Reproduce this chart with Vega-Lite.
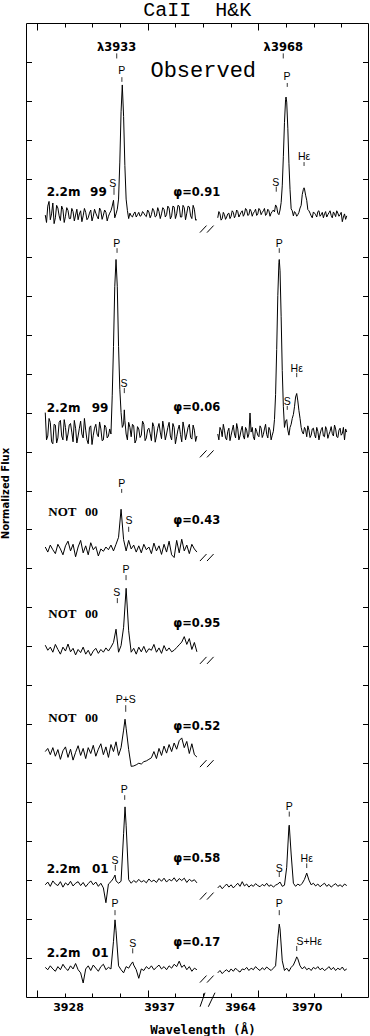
{
"$schema":"https://vega.github.io/schema/vega-lite/v6.json",
"width":342,"height":974,
"autosize":{"type":"none"},
"padding":{"left":26,"top":23,"right":2,"bottom":39},
"background":"white",
"config":{"view":{"stroke":"black","strokeWidth":1},"axis":{"tickWidth":1,"tickColor":"black","domain":false,"grid":false}},
"datasets":{
"specL":[
{"id":"1","wl":3925.75,"flux":20.07},{"id":"1","wl":3926,"flux":20.3},{"id":"1","wl":3926.25,"flux":19.95},{"id":"1","wl":3926.5,"flux":20.38},{"id":"1","wl":3926.75,"flux":20.0},{"id":"1","wl":3927,"flux":20.25},{"id":"1","wl":3927.25,"flux":19.93},{"id":"1","wl":3927.5,"flux":20.21},{"id":"1","wl":3927.75,"flux":20.04},{"id":"1","wl":3928,"flux":20.19},{"id":"1","wl":3928.25,"flux":19.98},{"id":"1","wl":3928.5,"flux":20.16},{"id":"1","wl":3928.75,"flux":20.07},{"id":"1","wl":3929,"flux":19.95},{"id":"1","wl":3929.25,"flux":20.18},{"id":"1","wl":3929.5,"flux":20.05},{"id":"1","wl":3929.75,"flux":20.14},{"id":"1","wl":3930,"flux":20.0},{"id":"1","wl":3930.25,"flux":20.2},{"id":"1","wl":3930.5,"flux":20.04},{"id":"1","wl":3930.75,"flux":20.12},{"id":"1","wl":3931,"flux":19.97},{"id":"1","wl":3931.25,"flux":20.18},{"id":"1","wl":3931.5,"flux":20.07},{"id":"1","wl":3931.75,"flux":20.14},{"id":"1","wl":3932,"flux":20.04},{"id":"1","wl":3932.25,"flux":20.18},{"id":"1","wl":3932.5,"flux":20.45},{"id":"1","wl":3932.75,"flux":20.1},{"id":"1","wl":3933,"flux":20.48},{"id":"1","wl":3933.25,"flux":22.72},{"id":"1","wl":3933.37,"flux":23.41},{"id":"1","wl":3933.5,"flux":22.6},{"id":"1","wl":3933.75,"flux":20.48},{"id":"1","wl":3934,"flux":19.98},{"id":"1","wl":3934.25,"flux":20.05},{"id":"1","wl":3934.5,"flux":20.1},{"id":"1","wl":3934.75,"flux":20.02},{"id":"1","wl":3935,"flux":20.14},{"id":"1","wl":3935.25,"flux":20.06},{"id":"1","wl":3935.5,"flux":20.12},{"id":"1","wl":3935.75,"flux":20.03},{"id":"1","wl":3936,"flux":20.15},{"id":"1","wl":3936.25,"flux":20.08},{"id":"1","wl":3936.5,"flux":20.18},{"id":"1","wl":3936.75,"flux":20.05},{"id":"1","wl":3937,"flux":20.16},{"id":"1","wl":3937.25,"flux":20.1},{"id":"1","wl":3937.5,"flux":20.22},{"id":"1","wl":3937.75,"flux":20.08},{"id":"1","wl":3938,"flux":20.25},{"id":"1","wl":3938.25,"flux":20.05},{"id":"1","wl":3938.5,"flux":20.28},{"id":"1","wl":3938.75,"flux":20.1},{"id":"1","wl":3939,"flux":20.3},{"id":"1","wl":3939.25,"flux":20.02},{"id":"1","wl":3939.5,"flux":20.26},{"id":"1","wl":3939.75,"flux":20.12},{"id":"1","wl":3940,"flux":20.28},{"id":"1","wl":3940.25,"flux":19.98},{"id":"1","wl":3940.5,"flux":20.22},{"id":"1","wl":3940.75,"flux":19.95},
{"id":"1","wl":3925.875,"flux":19.88},{"id":"1","wl":3926.125,"flux":20.42},{"id":"1","wl":3926.375,"flux":20.1},{"id":"1","wl":3926.625,"flux":19.85},{"id":"1","wl":3926.875,"flux":20.32},{"id":"1","wl":3927.125,"flux":20.05},{"id":"1","wl":3927.375,"flux":20.3},{"id":"1","wl":3927.625,"flux":19.88},{"id":"1","wl":3927.875,"flux":20.26},{"id":"1","wl":3928.125,"flux":19.98},{"id":"1","wl":3928.375,"flux":20.24},{"id":"1","wl":3928.625,"flux":19.92},{"id":"1","wl":3928.875,"flux":20.22},{"id":"1","wl":3929.125,"flux":20.1},{"id":"1","wl":3929.375,"flux":19.9},{"id":"1","wl":3929.625,"flux":20.24},{"id":"1","wl":3929.875,"flux":19.95},{"id":"1","wl":3930.125,"flux":20.12},{"id":"1","wl":3930.375,"flux":19.92},{"id":"1","wl":3930.625,"flux":20.22},{"id":"1","wl":3930.875,"flux":20.04},{"id":"1","wl":3931.125,"flux":20.25},{"id":"1","wl":3931.375,"flux":19.96},{"id":"1","wl":3931.625,"flux":20.2},{"id":"1","wl":3931.875,"flux":19.92},{"id":"1","wl":3932.125,"flux":20.12},{"id":"1","wl":3932.375,"flux":20.3},{"id":"1","wl":3932.625,"flux":20.0},{"id":"1","wl":3932.875,"flux":20.22},{"id":"1","wl":3933.125,"flux":21.43},{"id":"1","wl":3933.625,"flux":21.34},{"id":"1","wl":3933.875,"flux":20.19},{"id":"1","wl":3934.125,"flux":20.12},{"id":"1","wl":3934.375,"flux":20.02},{"id":"1","wl":3934.625,"flux":20.15},{"id":"1","wl":3934.875,"flux":20.08},{"id":"1","wl":3935.125,"flux":20.04},{"id":"1","wl":3935.375,"flux":20.16},{"id":"1","wl":3935.625,"flux":20.06},{"id":"1","wl":3935.875,"flux":20.2},{"id":"1","wl":3936.125,"flux":20.0},{"id":"1","wl":3936.375,"flux":20.24},{"id":"1","wl":3936.625,"flux":20.02},{"id":"1","wl":3936.875,"flux":20.26},{"id":"1","wl":3937.125,"flux":19.98},{"id":"1","wl":3937.375,"flux":20.26},{"id":"1","wl":3937.625,"flux":20.02},{"id":"1","wl":3937.875,"flux":20.3},{"id":"1","wl":3938.125,"flux":19.97},{"id":"1","wl":3938.375,"flux":20.3},{"id":"1","wl":3938.625,"flux":19.98},{"id":"1","wl":3938.875,"flux":20.32},{"id":"1","wl":3939.125,"flux":20.02},{"id":"1","wl":3939.375,"flux":20.32},{"id":"1","wl":3939.625,"flux":19.95},{"id":"1","wl":3939.875,"flux":20.3},{"id":"1","wl":3940.125,"flux":20.05},{"id":"1","wl":3940.375,"flux":20.32},{"id":"1","wl":3940.625,"flux":19.94},
{"id":"2","wl":3925.75,"flux":15.0},{"id":"2","wl":3926,"flux":14.4},{"id":"2","wl":3926.25,"flux":14.75},{"id":"2","wl":3926.5,"flux":14.2},{"id":"2","wl":3926.75,"flux":14.68},{"id":"2","wl":3927,"flux":14.35},{"id":"2","wl":3927.25,"flux":14.8},{"id":"2","wl":3927.5,"flux":14.3},{"id":"2","wl":3927.75,"flux":14.62},{"id":"2","wl":3928,"flux":14.45},{"id":"2","wl":3928.25,"flux":14.72},{"id":"2","wl":3928.5,"flux":14.25},{"id":"2","wl":3928.75,"flux":14.6},{"id":"2","wl":3929,"flux":14.4},{"id":"2","wl":3929.25,"flux":14.78},{"id":"2","wl":3929.5,"flux":14.35},{"id":"2","wl":3929.75,"flux":14.55},{"id":"2","wl":3930,"flux":14.2},{"id":"2","wl":3930.25,"flux":14.66},{"id":"2","wl":3930.5,"flux":14.42},{"id":"2","wl":3930.75,"flux":14.7},{"id":"2","wl":3931,"flux":14.38},{"id":"2","wl":3931.25,"flux":14.58},{"id":"2","wl":3931.5,"flux":14.3},{"id":"2","wl":3931.75,"flux":14.62},{"id":"2","wl":3932,"flux":14.4},{"id":"2","wl":3932.25,"flux":14.45},{"id":"2","wl":3932.5,"flux":16.7},{"id":"2","wl":3932.75,"flux":18.93},{"id":"2","wl":3933,"flux":16.7},{"id":"2","wl":3933.25,"flux":15.0},{"id":"2","wl":3933.5,"flux":14.7},{"id":"2","wl":3933.57,"flux":15.07},{"id":"2","wl":3933.75,"flux":14.45},{"id":"2","wl":3934,"flux":14.75},{"id":"2","wl":3934.25,"flux":14.38},{"id":"2","wl":3934.5,"flux":14.66},{"id":"2","wl":3934.75,"flux":14.3},{"id":"2","wl":3935,"flux":14.58},{"id":"2","wl":3935.25,"flux":14.42},{"id":"2","wl":3935.5,"flux":14.7},{"id":"2","wl":3935.75,"flux":14.35},{"id":"2","wl":3936,"flux":14.6},{"id":"2","wl":3936.25,"flux":14.28},{"id":"2","wl":3936.5,"flux":14.64},{"id":"2","wl":3936.75,"flux":14.4},{"id":"2","wl":3937,"flux":14.72},{"id":"2","wl":3937.25,"flux":14.33},{"id":"2","wl":3937.5,"flux":14.58},{"id":"2","wl":3937.75,"flux":14.45},{"id":"2","wl":3938,"flux":14.75},{"id":"2","wl":3938.25,"flux":14.3},{"id":"2","wl":3938.5,"flux":14.62},{"id":"2","wl":3938.75,"flux":14.38},{"id":"2","wl":3939,"flux":14.68},{"id":"2","wl":3939.25,"flux":14.25},{"id":"2","wl":3939.5,"flux":14.58},{"id":"2","wl":3939.75,"flux":14.45},{"id":"2","wl":3940,"flux":14.7},{"id":"2","wl":3940.25,"flux":14.32},{"id":"2","wl":3940.5,"flux":14.55},{"id":"2","wl":3940.75,"flux":14.4},
{"id":"2","wl":3925.875,"flux":14.3},{"id":"2","wl":3926.125,"flux":14.85},{"id":"2","wl":3926.375,"flux":14.25},{"id":"2","wl":3926.625,"flux":14.7},{"id":"2","wl":3926.875,"flux":14.22},{"id":"2","wl":3927.125,"flux":14.75},{"id":"2","wl":3927.375,"flux":14.4},{"id":"2","wl":3927.625,"flux":14.82},{"id":"2","wl":3927.875,"flux":14.28},{"id":"2","wl":3928.125,"flux":14.68},{"id":"2","wl":3928.375,"flux":14.5},{"id":"2","wl":3928.625,"flux":14.8},{"id":"2","wl":3928.875,"flux":14.22},{"id":"2","wl":3929.125,"flux":14.6},{"id":"2","wl":3929.375,"flux":14.45},{"id":"2","wl":3929.625,"flux":14.85},{"id":"2","wl":3929.875,"flux":14.3},{"id":"2","wl":3930.125,"flux":14.62},{"id":"2","wl":3930.375,"flux":14.18},{"id":"2","wl":3930.625,"flux":14.6},{"id":"2","wl":3930.875,"flux":14.45},{"id":"2","wl":3931.125,"flux":14.76},{"id":"2","wl":3931.375,"flux":14.28},{"id":"2","wl":3931.625,"flux":14.68},{"id":"2","wl":3931.875,"flux":14.35},{"id":"2","wl":3932.125,"flux":14.58},{"id":"2","wl":3932.375,"flux":15.43},{"id":"2","wl":3932.625,"flux":18.23},{"id":"2","wl":3932.875,"flux":18.23},{"id":"2","wl":3933.125,"flux":15.6},{"id":"2","wl":3933.375,"flux":14.62},{"id":"2","wl":3933.625,"flux":14.8},{"id":"2","wl":3933.875,"flux":14.3},{"id":"2","wl":3934.125,"flux":14.62},{"id":"2","wl":3934.375,"flux":14.7},{"id":"2","wl":3934.625,"flux":14.22},{"id":"2","wl":3934.875,"flux":14.64},{"id":"2","wl":3935.125,"flux":14.36},{"id":"2","wl":3935.375,"flux":14.78},{"id":"2","wl":3935.625,"flux":14.28},{"id":"2","wl":3935.875,"flux":14.56},{"id":"2","wl":3936.125,"flux":14.46},{"id":"2","wl":3936.375,"flux":14.74},{"id":"2","wl":3936.625,"flux":14.24},{"id":"2","wl":3936.875,"flux":14.6},{"id":"2","wl":3937.125,"flux":14.5},{"id":"2","wl":3937.375,"flux":14.78},{"id":"2","wl":3937.625,"flux":14.3},{"id":"2","wl":3937.875,"flux":14.62},{"id":"2","wl":3938.125,"flux":14.4},{"id":"2","wl":3938.375,"flux":14.72},{"id":"2","wl":3938.625,"flux":14.2},{"id":"2","wl":3938.875,"flux":14.56},{"id":"2","wl":3939.125,"flux":14.44},{"id":"2","wl":3939.375,"flux":14.76},{"id":"2","wl":3939.625,"flux":14.3},{"id":"2","wl":3939.875,"flux":14.62},{"id":"2","wl":3940.125,"flux":14.36},{"id":"2","wl":3940.375,"flux":14.68},{"id":"2","wl":3940.625,"flux":14.26},
{"id":"3","wl":3925.75,"flux":11.55},{"id":"3","wl":3926,"flux":11.42},{"id":"3","wl":3926.25,"flux":11.6},{"id":"3","wl":3926.5,"flux":11.48},{"id":"3","wl":3926.75,"flux":11.38},{"id":"3","wl":3927,"flux":11.62},{"id":"3","wl":3927.25,"flux":11.5},{"id":"3","wl":3927.5,"flux":11.35},{"id":"3","wl":3927.75,"flux":11.58},{"id":"3","wl":3928,"flux":11.7},{"id":"3","wl":3928.25,"flux":11.45},{"id":"3","wl":3928.5,"flux":11.62},{"id":"3","wl":3928.75,"flux":11.3},{"id":"3","wl":3929,"flux":11.55},{"id":"3","wl":3929.25,"flux":11.72},{"id":"3","wl":3929.5,"flux":11.4},{"id":"3","wl":3929.75,"flux":11.58},{"id":"3","wl":3930,"flux":11.35},{"id":"3","wl":3930.25,"flux":11.66},{"id":"3","wl":3930.5,"flux":11.48},{"id":"3","wl":3930.75,"flux":11.56},{"id":"3","wl":3931,"flux":11.32},{"id":"3","wl":3931.25,"flux":11.5},{"id":"3","wl":3931.5,"flux":11.44},{"id":"3","wl":3931.75,"flux":11.55},{"id":"3","wl":3932,"flux":11.48},{"id":"3","wl":3932.25,"flux":11.6},{"id":"3","wl":3932.5,"flux":11.45},{"id":"3","wl":3932.75,"flux":11.62},{"id":"3","wl":3933,"flux":11.8},{"id":"3","wl":3933.25,"flux":12.52},{"id":"3","wl":3933.5,"flux":11.74},{"id":"3","wl":3933.75,"flux":11.45},{"id":"3","wl":3934,"flux":11.72},{"id":"3","wl":3934.25,"flux":11.5},{"id":"3","wl":3934.5,"flux":11.6},{"id":"3","wl":3934.75,"flux":11.42},{"id":"3","wl":3935,"flux":11.58},{"id":"3","wl":3935.25,"flux":11.4},{"id":"3","wl":3935.5,"flux":11.62},{"id":"3","wl":3935.75,"flux":11.48},{"id":"3","wl":3936,"flux":11.55},{"id":"3","wl":3936.25,"flux":11.38},{"id":"3","wl":3936.5,"flux":11.65},{"id":"3","wl":3936.75,"flux":11.45},{"id":"3","wl":3937,"flux":11.58},{"id":"3","wl":3937.25,"flux":11.36},{"id":"3","wl":3937.5,"flux":11.62},{"id":"3","wl":3937.75,"flux":11.42},{"id":"3","wl":3938,"flux":11.7},{"id":"3","wl":3938.25,"flux":11.35},{"id":"3","wl":3938.5,"flux":11.28},{"id":"3","wl":3938.75,"flux":11.72},{"id":"3","wl":3939,"flux":11.4},{"id":"3","wl":3939.25,"flux":11.75},{"id":"3","wl":3939.5,"flux":11.45},{"id":"3","wl":3939.75,"flux":11.6},{"id":"3","wl":3940,"flux":11.38},{"id":"3","wl":3940.25,"flux":11.62},{"id":"3","wl":3940.5,"flux":11.5},{"id":"3","wl":3940.75,"flux":11.42},
{"id":"4","wl":3925.75,"flux":9.03},{"id":"4","wl":3926,"flux":8.9},{"id":"4","wl":3926.25,"flux":8.98},{"id":"4","wl":3926.5,"flux":8.85},{"id":"4","wl":3926.75,"flux":9.05},{"id":"4","wl":3927,"flux":8.92},{"id":"4","wl":3927.25,"flux":8.8},{"id":"4","wl":3927.5,"flux":8.98},{"id":"4","wl":3927.75,"flux":8.88},{"id":"4","wl":3928,"flux":9.06},{"id":"4","wl":3928.25,"flux":8.86},{"id":"4","wl":3928.5,"flux":8.95},{"id":"4","wl":3928.75,"flux":8.78},{"id":"4","wl":3929,"flux":8.92},{"id":"4","wl":3929.25,"flux":8.84},{"id":"4","wl":3929.5,"flux":8.98},{"id":"4","wl":3929.75,"flux":8.8},{"id":"4","wl":3930,"flux":8.9},{"id":"4","wl":3930.25,"flux":8.76},{"id":"4","wl":3930.5,"flux":8.88},{"id":"4","wl":3930.75,"flux":8.95},{"id":"4","wl":3931,"flux":8.82},{"id":"4","wl":3931.25,"flux":8.92},{"id":"4","wl":3931.5,"flux":8.85},{"id":"4","wl":3931.75,"flux":8.96},{"id":"4","wl":3932,"flux":8.88},{"id":"4","wl":3932.25,"flux":8.98},{"id":"4","wl":3932.5,"flux":9.1},{"id":"4","wl":3932.75,"flux":9.44},{"id":"4","wl":3933,"flux":8.85},{"id":"4","wl":3933.25,"flux":9.02},{"id":"4","wl":3933.5,"flux":9.49},{"id":"4","wl":3933.75,"flux":10.49},{"id":"4","wl":3934,"flux":9.4},{"id":"4","wl":3934.25,"flux":8.85},{"id":"4","wl":3934.5,"flux":8.95},{"id":"4","wl":3934.75,"flux":8.8},{"id":"4","wl":3935,"flux":8.98},{"id":"4","wl":3935.25,"flux":8.86},{"id":"4","wl":3935.5,"flux":9.0},{"id":"4","wl":3935.75,"flux":8.84},{"id":"4","wl":3936,"flux":8.94},{"id":"4","wl":3936.25,"flux":8.9},{"id":"4","wl":3936.5,"flux":9.05},{"id":"4","wl":3936.75,"flux":8.85},{"id":"4","wl":3937,"flux":8.96},{"id":"4","wl":3937.25,"flux":8.82},{"id":"4","wl":3937.5,"flux":9.02},{"id":"4","wl":3937.75,"flux":8.88},{"id":"4","wl":3938,"flux":8.96},{"id":"4","wl":3938.25,"flux":8.86},{"id":"4","wl":3938.5,"flux":8.9},{"id":"4","wl":3938.75,"flux":8.97},{"id":"4","wl":3939,"flux":9.04},{"id":"4","wl":3939.25,"flux":9.11},{"id":"4","wl":3939.5,"flux":9.25},{"id":"4","wl":3939.75,"flux":9.05},{"id":"4","wl":3940,"flux":9.2},{"id":"4","wl":3940.25,"flux":8.92},{"id":"4","wl":3940.5,"flux":9.1},{"id":"4","wl":3940.75,"flux":8.86},
{"id":"5","wl":3925.75,"flux":6.3},{"id":"5","wl":3926,"flux":6.38},{"id":"5","wl":3926.25,"flux":6.22},{"id":"5","wl":3926.5,"flux":6.4},{"id":"5","wl":3926.75,"flux":6.18},{"id":"5","wl":3927,"flux":6.35},{"id":"5","wl":3927.25,"flux":6.1},{"id":"5","wl":3927.5,"flux":6.32},{"id":"5","wl":3927.75,"flux":6.42},{"id":"5","wl":3928,"flux":6.15},{"id":"5","wl":3928.25,"flux":6.36},{"id":"5","wl":3928.5,"flux":6.08},{"id":"5","wl":3928.75,"flux":6.28},{"id":"5","wl":3929,"flux":6.45},{"id":"5","wl":3929.25,"flux":6.2},{"id":"5","wl":3929.5,"flux":6.38},{"id":"5","wl":3929.75,"flux":6.12},{"id":"5","wl":3930,"flux":6.4},{"id":"5","wl":3930.25,"flux":6.25},{"id":"5","wl":3930.5,"flux":6.46},{"id":"5","wl":3930.75,"flux":6.18},{"id":"5","wl":3931,"flux":6.36},{"id":"5","wl":3931.25,"flux":6.5},{"id":"5","wl":3931.5,"flux":6.22},{"id":"5","wl":3931.75,"flux":6.42},{"id":"5","wl":3932,"flux":6.15},{"id":"5","wl":3932.25,"flux":6.48},{"id":"5","wl":3932.5,"flux":6.3},{"id":"5","wl":3932.75,"flux":6.55},{"id":"5","wl":3933,"flux":6.2},{"id":"5","wl":3933.25,"flux":6.4},{"id":"5","wl":3933.5,"flux":6.85},{"id":"5","wl":3933.64,"flux":7.13},{"id":"5","wl":3933.75,"flux":6.9},{"id":"5","wl":3934,"flux":6.35},{"id":"5","wl":3934.25,"flux":5.92},{"id":"5","wl":3934.5,"flux":5.93},{"id":"5","wl":3934.75,"flux":5.96},{"id":"5","wl":3935,"flux":6.0},{"id":"5","wl":3935.25,"flux":5.98},{"id":"5","wl":3935.5,"flux":6.04},{"id":"5","wl":3935.75,"flux":6.06},{"id":"5","wl":3936,"flux":6.1},{"id":"5","wl":3936.25,"flux":6.14},{"id":"5","wl":3936.5,"flux":6.3},{"id":"5","wl":3936.75,"flux":6.12},{"id":"5","wl":3937,"flux":6.38},{"id":"5","wl":3937.25,"flux":6.2},{"id":"5","wl":3937.5,"flux":6.44},{"id":"5","wl":3937.75,"flux":6.26},{"id":"5","wl":3938,"flux":6.48},{"id":"5","wl":3938.25,"flux":6.3},{"id":"5","wl":3938.5,"flux":6.52},{"id":"5","wl":3938.75,"flux":6.36},{"id":"5","wl":3939,"flux":6.58},{"id":"5","wl":3939.25,"flux":6.65},{"id":"5","wl":3939.5,"flux":6.4},{"id":"5","wl":3939.75,"flux":6.56},{"id":"5","wl":3940,"flux":6.25},{"id":"5","wl":3940.25,"flux":6.5},{"id":"5","wl":3940.5,"flux":6.22},{"id":"5","wl":3940.75,"flux":6.16},
{"id":"6","wl":3925.75,"flux":2.88},{"id":"6","wl":3926,"flux":2.95},{"id":"6","wl":3926.25,"flux":2.84},{"id":"6","wl":3926.5,"flux":2.98},{"id":"6","wl":3926.75,"flux":2.9},{"id":"6","wl":3927,"flux":2.86},{"id":"6","wl":3927.25,"flux":2.96},{"id":"6","wl":3927.5,"flux":2.82},{"id":"6","wl":3927.75,"flux":2.93},{"id":"6","wl":3928,"flux":2.87},{"id":"6","wl":3928.25,"flux":2.97},{"id":"6","wl":3928.5,"flux":2.85},{"id":"6","wl":3928.75,"flux":2.92},{"id":"6","wl":3929,"flux":2.96},{"id":"6","wl":3929.25,"flux":2.86},{"id":"6","wl":3929.5,"flux":2.94},{"id":"6","wl":3929.75,"flux":2.83},{"id":"6","wl":3930,"flux":2.91},{"id":"6","wl":3930.25,"flux":2.98},{"id":"6","wl":3930.5,"flux":2.88},{"id":"6","wl":3930.75,"flux":2.95},{"id":"6","wl":3931,"flux":2.84},{"id":"6","wl":3931.25,"flux":2.92},{"id":"6","wl":3931.5,"flux":2.8},{"id":"6","wl":3931.75,"flux":2.42},{"id":"6","wl":3932,"flux":2.9},{"id":"6","wl":3932.25,"flux":2.96},{"id":"6","wl":3932.5,"flux":3.05},{"id":"6","wl":3932.65,"flux":3.13},{"id":"6","wl":3932.75,"flux":2.98},{"id":"6","wl":3933,"flux":2.92},{"id":"6","wl":3933.25,"flux":2.97},{"id":"6","wl":3933.5,"flux":4.19},{"id":"6","wl":3933.64,"flux":4.88},{"id":"6","wl":3933.75,"flux":4.41},{"id":"6","wl":3934,"flux":3.01},{"id":"6","wl":3934.25,"flux":2.92},{"id":"6","wl":3934.5,"flux":2.99},{"id":"6","wl":3934.75,"flux":2.94},{"id":"6","wl":3935,"flux":3.02},{"id":"6","wl":3935.25,"flux":2.95},{"id":"6","wl":3935.5,"flux":2.99},{"id":"6","wl":3935.75,"flux":2.93},{"id":"6","wl":3936,"flux":3.03},{"id":"6","wl":3936.25,"flux":2.96},{"id":"6","wl":3936.5,"flux":3.0},{"id":"6","wl":3936.75,"flux":2.94},{"id":"6","wl":3937,"flux":3.04},{"id":"6","wl":3937.25,"flux":2.97},{"id":"6","wl":3937.5,"flux":3.05},{"id":"6","wl":3937.75,"flux":2.95},{"id":"6","wl":3938,"flux":3.02},{"id":"6","wl":3938.25,"flux":2.98},{"id":"6","wl":3938.5,"flux":3.06},{"id":"6","wl":3938.75,"flux":2.96},{"id":"6","wl":3939,"flux":3.04},{"id":"6","wl":3939.25,"flux":2.99},{"id":"6","wl":3939.5,"flux":3.05},{"id":"6","wl":3939.75,"flux":2.94},{"id":"6","wl":3940,"flux":3.02},{"id":"6","wl":3940.25,"flux":2.97},{"id":"6","wl":3940.5,"flux":3.01},{"id":"6","wl":3940.75,"flux":2.93},
{"id":"7","wl":3925.75,"flux":0.76},{"id":"7","wl":3926,"flux":0.7},{"id":"7","wl":3926.25,"flux":0.8},{"id":"7","wl":3926.5,"flux":0.72},{"id":"7","wl":3926.75,"flux":0.66},{"id":"7","wl":3927,"flux":0.78},{"id":"7","wl":3927.25,"flux":0.7},{"id":"7","wl":3927.5,"flux":0.84},{"id":"7","wl":3927.75,"flux":0.74},{"id":"7","wl":3928,"flux":0.68},{"id":"7","wl":3928.25,"flux":0.8},{"id":"7","wl":3928.5,"flux":0.72},{"id":"7","wl":3928.75,"flux":0.86},{"id":"7","wl":3929,"flux":0.7},{"id":"7","wl":3929.25,"flux":0.62},{"id":"7","wl":3929.5,"flux":0.36},{"id":"7","wl":3929.75,"flux":0.72},{"id":"7","wl":3930,"flux":0.8},{"id":"7","wl":3930.25,"flux":0.68},{"id":"7","wl":3930.5,"flux":0.82},{"id":"7","wl":3930.75,"flux":0.74},{"id":"7","wl":3931,"flux":0.66},{"id":"7","wl":3931.25,"flux":0.78},{"id":"7","wl":3931.5,"flux":0.84},{"id":"7","wl":3931.75,"flux":0.7},{"id":"7","wl":3932,"flux":0.76},{"id":"7","wl":3932.25,"flux":0.72},{"id":"7","wl":3932.5,"flux":1.43},{"id":"7","wl":3932.65,"flux":1.98},{"id":"7","wl":3932.75,"flux":1.7},{"id":"7","wl":3933,"flux":0.8},{"id":"7","wl":3933.25,"flux":0.7},{"id":"7","wl":3933.5,"flux":0.62},{"id":"7","wl":3933.75,"flux":0.78},{"id":"7","wl":3934,"flux":0.74},{"id":"7","wl":3934.25,"flux":0.85},{"id":"7","wl":3934.4,"flux":0.9},{"id":"7","wl":3934.5,"flux":0.82},{"id":"7","wl":3934.75,"flux":0.7},{"id":"7","wl":3935,"flux":0.48},{"id":"7","wl":3935.25,"flux":0.72},{"id":"7","wl":3935.5,"flux":0.68},{"id":"7","wl":3935.75,"flux":0.78},{"id":"7","wl":3936,"flux":0.72},{"id":"7","wl":3936.25,"flux":0.8},{"id":"7","wl":3936.5,"flux":0.7},{"id":"7","wl":3936.75,"flux":0.76},{"id":"7","wl":3937,"flux":0.82},{"id":"7","wl":3937.25,"flux":0.72},{"id":"7","wl":3937.5,"flux":0.78},{"id":"7","wl":3937.75,"flux":0.7},{"id":"7","wl":3938,"flux":0.8},{"id":"7","wl":3938.25,"flux":0.74},{"id":"7","wl":3938.5,"flux":0.84},{"id":"7","wl":3938.75,"flux":0.78},{"id":"7","wl":3939,"flux":0.92},{"id":"7","wl":3939.25,"flux":0.76},{"id":"7","wl":3939.5,"flux":0.82},{"id":"7","wl":3939.75,"flux":0.7},{"id":"7","wl":3940,"flux":0.78},{"id":"7","wl":3940.25,"flux":0.66},{"id":"7","wl":3940.5,"flux":0.74},{"id":"7","wl":3940.75,"flux":0.7}
],
"specR":[
{"id":"1","wl":3962,"flux":20.0},{"id":"1","wl":3962.2,"flux":20.1},{"id":"1","wl":3962.4,"flux":19.98},{"id":"1","wl":3962.6,"flux":20.08},{"id":"1","wl":3962.8,"flux":20.02},{"id":"1","wl":3963,"flux":20.12},{"id":"1","wl":3963.2,"flux":20.04},{"id":"1","wl":3963.4,"flux":20.14},{"id":"1","wl":3963.6,"flux":20.06},{"id":"1","wl":3963.8,"flux":20.16},{"id":"1","wl":3964,"flux":20.08},{"id":"1","wl":3964.2,"flux":20.18},{"id":"1","wl":3964.4,"flux":20.1},{"id":"1","wl":3964.6,"flux":20.2},{"id":"1","wl":3964.8,"flux":20.08},{"id":"1","wl":3965,"flux":20.17},{"id":"1","wl":3965.2,"flux":20.12},{"id":"1","wl":3965.4,"flux":20.22},{"id":"1","wl":3965.6,"flux":20.1},{"id":"1","wl":3965.8,"flux":20.2},{"id":"1","wl":3966,"flux":20.14},{"id":"1","wl":3966.2,"flux":20.24},{"id":"1","wl":3966.4,"flux":20.1},{"id":"1","wl":3966.6,"flux":20.18},{"id":"1","wl":3966.8,"flux":20.12},{"id":"1","wl":3967,"flux":20.2},{"id":"1","wl":3967.2,"flux":20.33},{"id":"1","wl":3967.4,"flux":20.12},{"id":"1","wl":3967.6,"flux":20.2},{"id":"1","wl":3967.8,"flux":20.82},{"id":"1","wl":3968,"flux":22.45},{"id":"1","wl":3968.14,"flux":23.1},{"id":"1","wl":3968.2,"flux":22.97},{"id":"1","wl":3968.4,"flux":21.4},{"id":"1","wl":3968.6,"flux":20.23},{"id":"1","wl":3968.8,"flux":20.05},{"id":"1","wl":3969,"flux":20.12},{"id":"1","wl":3969.2,"flux":20.08},{"id":"1","wl":3969.4,"flux":20.25},{"id":"1","wl":3969.6,"flux":20.6},{"id":"1","wl":3969.76,"flux":20.77},{"id":"1","wl":3969.8,"flux":20.74},{"id":"1","wl":3970,"flux":20.45},{"id":"1","wl":3970.2,"flux":20.18},{"id":"1","wl":3970.4,"flux":20.05},{"id":"1","wl":3970.6,"flux":20.15},{"id":"1","wl":3970.8,"flux":20.08},{"id":"1","wl":3971,"flux":20.16},{"id":"1","wl":3971.2,"flux":20.04},{"id":"1","wl":3971.4,"flux":20.14},{"id":"1","wl":3971.6,"flux":20.1},{"id":"1","wl":3971.8,"flux":20.02},{"id":"1","wl":3972,"flux":20.13},{"id":"1","wl":3972.2,"flux":20.06},{"id":"1","wl":3972.4,"flux":20.15},{"id":"1","wl":3972.6,"flux":20.03},{"id":"1","wl":3972.8,"flux":20.12},{"id":"1","wl":3973,"flux":20.08},{"id":"1","wl":3973.2,"flux":19.9},{"id":"1","wl":3973.4,"flux":20.1},{"id":"1","wl":3973.6,"flux":20.05},
{"id":"1","wl":3962.1,"flux":20.16},{"id":"1","wl":3962.3,"flux":19.94},{"id":"1","wl":3962.5,"flux":20.14},{"id":"1","wl":3962.7,"flux":19.96},{"id":"1","wl":3962.9,"flux":20.1},{"id":"1","wl":3963.1,"flux":19.98},{"id":"1","wl":3963.3,"flux":20.18},{"id":"1","wl":3963.5,"flux":20.0},{"id":"1","wl":3963.7,"flux":20.2},{"id":"1","wl":3963.9,"flux":20.02},{"id":"1","wl":3964.1,"flux":20.14},{"id":"1","wl":3964.3,"flux":20.04},{"id":"1","wl":3964.5,"flux":20.24},{"id":"1","wl":3964.7,"flux":20.06},{"id":"1","wl":3964.9,"flux":20.22},{"id":"1","wl":3965.1,"flux":20.04},{"id":"1","wl":3965.3,"flux":20.16},{"id":"1","wl":3965.5,"flux":20.06},{"id":"1","wl":3965.7,"flux":20.24},{"id":"1","wl":3965.9,"flux":20.08},{"id":"1","wl":3966.1,"flux":20.18},{"id":"1","wl":3966.3,"flux":20.06},{"id":"1","wl":3966.5,"flux":20.22},{"id":"1","wl":3966.7,"flux":20.04},{"id":"1","wl":3966.9,"flux":20.16},{"id":"1","wl":3967.1,"flux":20.15},{"id":"1","wl":3967.3,"flux":20.28},{"id":"1","wl":3967.5,"flux":20.08},{"id":"1","wl":3967.7,"flux":20.39},{"id":"1","wl":3967.9,"flux":21.58},{"id":"1","wl":3968.1,"flux":23.04},{"id":"1","wl":3968.3,"flux":22.3},{"id":"1","wl":3968.5,"flux":20.72},{"id":"1","wl":3968.7,"flux":20.18},{"id":"1","wl":3968.9,"flux":20.16},{"id":"1","wl":3969.1,"flux":20.04},{"id":"1","wl":3969.3,"flux":20.14},{"id":"1","wl":3969.5,"flux":20.32},{"id":"1","wl":3969.7,"flux":20.73},{"id":"1","wl":3969.9,"flux":20.58},{"id":"1","wl":3970.1,"flux":20.21},{"id":"1","wl":3970.3,"flux":20.12},{"id":"1","wl":3970.5,"flux":20.0},{"id":"1","wl":3970.7,"flux":20.12},{"id":"1","wl":3970.9,"flux":20.02},{"id":"1","wl":3971.1,"flux":20.18},{"id":"1","wl":3971.3,"flux":20.08},{"id":"1","wl":3971.5,"flux":20.0},{"id":"1","wl":3971.7,"flux":20.16},{"id":"1","wl":3971.9,"flux":20.08},{"id":"1","wl":3972.1,"flux":20.18},{"id":"1","wl":3972.3,"flux":20.0},{"id":"1","wl":3972.5,"flux":20.1},{"id":"1","wl":3972.7,"flux":20.18},{"id":"1","wl":3972.9,"flux":20.04},{"id":"1","wl":3973.1,"flux":20.14},{"id":"1","wl":3973.3,"flux":20.02},{"id":"1","wl":3973.5,"flux":19.96},
{"id":"2","wl":3962,"flux":14.45},{"id":"2","wl":3962.2,"flux":14.62},{"id":"2","wl":3962.4,"flux":14.38},{"id":"2","wl":3962.6,"flux":14.55},{"id":"2","wl":3962.8,"flux":14.3},{"id":"2","wl":3963,"flux":14.6},{"id":"2","wl":3963.2,"flux":14.42},{"id":"2","wl":3963.4,"flux":14.68},{"id":"2","wl":3963.6,"flux":14.35},{"id":"2","wl":3963.8,"flux":14.58},{"id":"2","wl":3964,"flux":14.4},{"id":"2","wl":3964.2,"flux":14.65},{"id":"2","wl":3964.4,"flux":14.32},{"id":"2","wl":3964.6,"flux":14.55},{"id":"2","wl":3964.8,"flux":14.45},{"id":"2","wl":3964.9,"flux":14.99},{"id":"2","wl":3965,"flux":14.5},{"id":"2","wl":3965.2,"flux":14.38},{"id":"2","wl":3965.4,"flux":14.6},{"id":"2","wl":3965.6,"flux":14.42},{"id":"2","wl":3965.8,"flux":14.66},{"id":"2","wl":3966,"flux":14.36},{"id":"2","wl":3966.2,"flux":14.58},{"id":"2","wl":3966.4,"flux":14.44},{"id":"2","wl":3966.6,"flux":14.62},{"id":"2","wl":3966.8,"flux":14.3},{"id":"2","wl":3967,"flux":14.52},{"id":"2","wl":3967.2,"flux":15.46},{"id":"2","wl":3967.4,"flux":18.0},{"id":"2","wl":3967.53,"flux":18.93},{"id":"2","wl":3967.6,"flux":18.64},{"id":"2","wl":3967.8,"flux":16.08},{"id":"2","wl":3968,"flux":14.62},{"id":"2","wl":3968.2,"flux":14.82},{"id":"2","wl":3968.4,"flux":14.42},{"id":"2","wl":3968.6,"flux":14.7},{"id":"2","wl":3968.8,"flux":14.95},{"id":"2","wl":3969,"flux":15.4},{"id":"2","wl":3969.1,"flux":15.49},{"id":"2","wl":3969.2,"flux":15.3},{"id":"2","wl":3969.4,"flux":14.85},{"id":"2","wl":3969.6,"flux":14.5},{"id":"2","wl":3969.8,"flux":14.62},{"id":"2","wl":3970,"flux":14.38},{"id":"2","wl":3970.2,"flux":14.55},{"id":"2","wl":3970.4,"flux":14.42},{"id":"2","wl":3970.6,"flux":14.6},{"id":"2","wl":3970.8,"flux":14.35},{"id":"2","wl":3971,"flux":14.52},{"id":"2","wl":3971.2,"flux":14.45},{"id":"2","wl":3971.4,"flux":14.62},{"id":"2","wl":3971.6,"flux":14.38},{"id":"2","wl":3971.8,"flux":14.56},{"id":"2","wl":3972,"flux":14.44},{"id":"2","wl":3972.2,"flux":14.64},{"id":"2","wl":3972.4,"flux":14.4},{"id":"2","wl":3972.6,"flux":14.58},{"id":"2","wl":3972.8,"flux":14.36},{"id":"2","wl":3973,"flux":14.6},{"id":"2","wl":3973.2,"flux":14.46},{"id":"2","wl":3973.4,"flux":14.3},{"id":"2","wl":3973.6,"flux":14.5},
{"id":"2","wl":3962.1,"flux":14.3},{"id":"2","wl":3962.3,"flux":14.55},{"id":"2","wl":3962.5,"flux":14.7},{"id":"2","wl":3962.7,"flux":14.35},{"id":"2","wl":3962.9,"flux":14.52},{"id":"2","wl":3963.1,"flux":14.28},{"id":"2","wl":3963.3,"flux":14.55},{"id":"2","wl":3963.5,"flux":14.45},{"id":"2","wl":3963.7,"flux":14.72},{"id":"2","wl":3963.9,"flux":14.3},{"id":"2","wl":3964.1,"flux":14.55},{"id":"2","wl":3964.3,"flux":14.4},{"id":"2","wl":3964.5,"flux":14.62},{"id":"2","wl":3964.7,"flux":14.36},{"id":"2","wl":3965.1,"flux":14.62},{"id":"2","wl":3965.3,"flux":14.3},{"id":"2","wl":3965.5,"flux":14.52},{"id":"2","wl":3965.7,"flux":14.38},{"id":"2","wl":3965.9,"flux":14.6},{"id":"2","wl":3966.1,"flux":14.44},{"id":"2","wl":3966.3,"flux":14.7},{"id":"2","wl":3966.5,"flux":14.35},{"id":"2","wl":3966.7,"flux":14.55},{"id":"2","wl":3966.9,"flux":14.42},{"id":"2","wl":3967.1,"flux":14.82},{"id":"2","wl":3967.3,"flux":16.62},{"id":"2","wl":3967.5,"flux":18.85},{"id":"2","wl":3967.7,"flux":17.46},{"id":"2","wl":3967.9,"flux":15.15},{"id":"2","wl":3968.1,"flux":14.78},{"id":"2","wl":3968.3,"flux":14.55},{"id":"2","wl":3968.5,"flux":14.62},{"id":"2","wl":3968.7,"flux":14.85},{"id":"2","wl":3968.9,"flux":15.15},{"id":"2","wl":3969.3,"flux":15.05},{"id":"2","wl":3969.5,"flux":14.62},{"id":"2","wl":3969.7,"flux":14.45},{"id":"2","wl":3969.9,"flux":14.56},{"id":"2","wl":3970.1,"flux":14.66},{"id":"2","wl":3970.3,"flux":14.36},{"id":"2","wl":3970.5,"flux":14.58},{"id":"2","wl":3970.7,"flux":14.44},{"id":"2","wl":3970.9,"flux":14.62},{"id":"2","wl":3971.1,"flux":14.3},{"id":"2","wl":3971.3,"flux":14.56},{"id":"2","wl":3971.5,"flux":14.4},{"id":"2","wl":3971.7,"flux":14.64},{"id":"2","wl":3971.9,"flux":14.34},{"id":"2","wl":3972.1,"flux":14.52},{"id":"2","wl":3972.3,"flux":14.46},{"id":"2","wl":3972.5,"flux":14.68},{"id":"2","wl":3972.7,"flux":14.38},{"id":"2","wl":3972.9,"flux":14.55},{"id":"2","wl":3973.1,"flux":14.42},{"id":"2","wl":3973.3,"flux":14.62},{"id":"2","wl":3973.5,"flux":14.58},
{"id":"6","wl":3962,"flux":2.8},{"id":"6","wl":3962.2,"flux":2.86},{"id":"6","wl":3962.4,"flux":2.78},{"id":"6","wl":3962.6,"flux":2.84},{"id":"6","wl":3962.8,"flux":2.9},{"id":"6","wl":3963,"flux":2.82},{"id":"6","wl":3963.2,"flux":2.88},{"id":"6","wl":3963.4,"flux":2.8},{"id":"6","wl":3963.6,"flux":2.86},{"id":"6","wl":3963.8,"flux":2.92},{"id":"6","wl":3964,"flux":2.84},{"id":"6","wl":3964.2,"flux":2.96},{"id":"6","wl":3964.4,"flux":2.85},{"id":"6","wl":3964.6,"flux":2.9},{"id":"6","wl":3964.8,"flux":2.82},{"id":"6","wl":3965,"flux":2.88},{"id":"6","wl":3965.2,"flux":2.84},{"id":"6","wl":3965.4,"flux":2.91},{"id":"6","wl":3965.6,"flux":2.86},{"id":"6","wl":3965.8,"flux":2.83},{"id":"6","wl":3966,"flux":2.89},{"id":"6","wl":3966.2,"flux":2.85},{"id":"6","wl":3966.4,"flux":2.92},{"id":"6","wl":3966.6,"flux":2.84},{"id":"6","wl":3966.8,"flux":2.88},{"id":"6","wl":3967,"flux":2.82},{"id":"6","wl":3967.2,"flux":2.87},{"id":"6","wl":3967.4,"flux":2.9},{"id":"6","wl":3967.6,"flux":2.95},{"id":"6","wl":3967.8,"flux":2.84},{"id":"6","wl":3968,"flux":2.87},{"id":"6","wl":3968.2,"flux":3.33},{"id":"6","wl":3968.4,"flux":4.38},{"id":"6","wl":3968.43,"flux":4.41},{"id":"6","wl":3968.6,"flux":3.67},{"id":"6","wl":3968.8,"flux":2.92},{"id":"6","wl":3969,"flux":2.84},{"id":"6","wl":3969.2,"flux":2.9},{"id":"6","wl":3969.4,"flux":2.86},{"id":"6","wl":3969.6,"flux":2.92},{"id":"6","wl":3969.8,"flux":3.02},{"id":"6","wl":3970,"flux":3.18},{"id":"6","wl":3970.2,"flux":3.0},{"id":"6","wl":3970.4,"flux":2.88},{"id":"6","wl":3970.6,"flux":2.92},{"id":"6","wl":3970.8,"flux":2.85},{"id":"6","wl":3971,"flux":2.9},{"id":"6","wl":3971.2,"flux":2.83},{"id":"6","wl":3971.4,"flux":2.88},{"id":"6","wl":3971.6,"flux":2.92},{"id":"6","wl":3971.8,"flux":2.84},{"id":"6","wl":3972,"flux":2.89},{"id":"6","wl":3972.2,"flux":2.82},{"id":"6","wl":3972.4,"flux":2.87},{"id":"6","wl":3972.6,"flux":2.91},{"id":"6","wl":3972.8,"flux":2.84},{"id":"6","wl":3973,"flux":2.88},{"id":"6","wl":3973.2,"flux":2.83},{"id":"6","wl":3973.4,"flux":2.9},{"id":"6","wl":3973.6,"flux":2.86},
{"id":"7","wl":3962,"flux":0.62},{"id":"7","wl":3962.2,"flux":0.68},{"id":"7","wl":3962.4,"flux":0.6},{"id":"7","wl":3962.6,"flux":0.66},{"id":"7","wl":3962.8,"flux":0.7},{"id":"7","wl":3963,"flux":0.64},{"id":"7","wl":3963.2,"flux":0.72},{"id":"7","wl":3963.4,"flux":0.66},{"id":"7","wl":3963.6,"flux":0.74},{"id":"7","wl":3963.8,"flux":0.68},{"id":"7","wl":3964,"flux":0.64},{"id":"7","wl":3964.2,"flux":0.72},{"id":"7","wl":3964.4,"flux":0.7},{"id":"7","wl":3964.6,"flux":0.76},{"id":"7","wl":3964.8,"flux":0.68},{"id":"7","wl":3965,"flux":0.74},{"id":"7","wl":3965.2,"flux":0.7},{"id":"7","wl":3965.4,"flux":0.78},{"id":"7","wl":3965.6,"flux":0.72},{"id":"7","wl":3965.8,"flux":0.68},{"id":"7","wl":3966,"flux":0.75},{"id":"7","wl":3966.2,"flux":0.7},{"id":"7","wl":3966.4,"flux":0.77},{"id":"7","wl":3966.6,"flux":0.72},{"id":"7","wl":3966.8,"flux":0.68},{"id":"7","wl":3967,"flux":0.74},{"id":"7","wl":3967.2,"flux":0.8},{"id":"7","wl":3967.4,"flux":1.51},{"id":"7","wl":3967.53,"flux":1.87},{"id":"7","wl":3967.6,"flux":1.75},{"id":"7","wl":3967.8,"flux":0.93},{"id":"7","wl":3968,"flux":0.68},{"id":"7","wl":3968.2,"flux":0.74},{"id":"7","wl":3968.4,"flux":0.66},{"id":"7","wl":3968.6,"flux":0.76},{"id":"7","wl":3968.8,"flux":0.82},{"id":"7","wl":3969,"flux":0.95},{"id":"7","wl":3969.1,"flux":1.03},{"id":"7","wl":3969.2,"flux":0.98},{"id":"7","wl":3969.4,"flux":0.8},{"id":"7","wl":3969.6,"flux":0.72},{"id":"7","wl":3969.8,"flux":0.78},{"id":"7","wl":3970,"flux":0.7},{"id":"7","wl":3970.2,"flux":0.74},{"id":"7","wl":3970.4,"flux":0.68},{"id":"7","wl":3970.6,"flux":0.76},{"id":"7","wl":3970.8,"flux":0.72},{"id":"7","wl":3971,"flux":0.78},{"id":"7","wl":3971.2,"flux":0.7},{"id":"7","wl":3971.4,"flux":0.74},{"id":"7","wl":3971.6,"flux":0.68},{"id":"7","wl":3971.8,"flux":0.72},{"id":"7","wl":3972,"flux":0.78},{"id":"7","wl":3972.2,"flux":0.7},{"id":"7","wl":3972.4,"flux":0.76},{"id":"7","wl":3972.6,"flux":0.68},{"id":"7","wl":3972.8,"flux":0.74},{"id":"7","wl":3973,"flux":0.7},{"id":"7","wl":3973.2,"flux":0.77},{"id":"7","wl":3973.4,"flux":0.68},{"id":"7","wl":3973.6,"flux":0.72}
],
"notesL":[
{"kind":"head","label":"CaII\u00a0\u00a0H&K","wl":3940.79,"y":25.18},
{"kind":"rest","label":"λ3933","wl":3932.82,"y":24.27,"twl":3932.82,"ty1":24.22,"ty2":24.09},
{"kind":"obs","label":"Observed","wl":3941.38,"y":23.61},
{"kind":"feat","label":"P","wl":3933.31,"y":23.69,"twl":3933.33,"ty1":23.61,"ty2":23.49},
{"kind":"feat","label":"S","wl":3932.42,"y":20.8,"twl":3932.55,"ty1":20.78,"ty2":20.59},
{"kind":"run","label":"2.2m","wl":3925.89,"y":20.55},
{"kind":"run","label":"99","wl":3930.18,"y":20.55},
{"kind":"phase","label":"φ=0.91","wl":3940.73,"y":20.56},
{"kind":"feat","label":"P","wl":3932.82,"y":19.26,"twl":3932.85,"ty1":19.22,"ty2":19.1},
{"kind":"feat","label":"S","wl":3933.54,"y":15.66,"twl":3933.57,"ty1":15.63,"ty2":15.5},
{"kind":"run","label":"2.2m","wl":3925.89,"y":15.02},
{"kind":"run","label":"99","wl":3930.34,"y":15.02},
{"kind":"phase","label":"φ=0.06","wl":3940.73,"y":15.04},
{"kind":"feat","label":"P","wl":3933.31,"y":13.1,"twl":3933.31,"ty1":13.04,"ty2":12.94},
{"kind":"feat","label":"S","wl":3934.03,"y":12.13,"twl":3934.0,"ty1":12.07,"ty2":11.94},
{"kind":"site","label":"NOT","wl":3926.05,"y":12.35},
{"kind":"site","label":"00","wl":3929.68,"y":12.35},
{"kind":"phase","label":"φ=0.43","wl":3940.73,"y":12.14},
{"kind":"feat","label":"P","wl":3933.74,"y":10.89,"twl":3933.74,"ty1":10.83,"ty2":10.7},
{"kind":"feat","label":"S","wl":3932.82,"y":10.29,"twl":3932.88,"ty1":10.24,"ty2":10.11},
{"kind":"site","label":"NOT","wl":3926.05,"y":9.73},
{"kind":"site","label":"00","wl":3929.68,"y":9.73},
{"kind":"phase","label":"φ=0.95","wl":3940.73,"y":9.5},
{"kind":"feat","label":"P+S","wl":3933.71,"y":7.54,"twl":3933.71,"ty1":7.49,"ty2":7.32},
{"kind":"site","label":"NOT","wl":3926.05,"y":7.06},
{"kind":"site","label":"00","wl":3929.68,"y":7.06},
{"kind":"phase","label":"φ=0.52","wl":3940.73,"y":6.85},
{"kind":"feat","label":"P","wl":3933.57,"y":5.23,"twl":3933.61,"ty1":5.18,"ty2":5.06},
{"kind":"feat","label":"S","wl":3932.65,"y":3.41,"twl":3932.68,"ty1":3.39,"ty2":3.24},
{"kind":"run","label":"2.2m","wl":3925.89,"y":3.19},
{"kind":"run","label":"01","wl":3930.37,"y":3.19},
{"kind":"phase","label":"φ=0.58","wl":3940.73,"y":3.47},
{"kind":"feat","label":"P","wl":3932.65,"y":2.3,"twl":3932.65,"ty1":2.23,"ty2":2.1},
{"kind":"feat","label":"S","wl":3934.4,"y":1.29,"twl":3934.4,"ty1":1.25,"ty2":1.12},
{"kind":"run","label":"2.2m","wl":3925.89,"y":1.03},
{"kind":"run","label":"01","wl":3930.37,"y":1.03},
{"kind":"phase","label":"φ=0.17","wl":3940.73,"y":1.31}
],
"notesR":[
{"kind":"rest","label":"λ3968","wl":3967.89,"y":24.27,"twl":3967.89,"ty1":24.22,"ty2":24.09},
{"kind":"feat","label":"P","wl":3968.23,"y":23.54,"twl":3968.25,"ty1":23.46,"ty2":23.36},
{"kind":"feat","label":"Hε","wl":3969.76,"y":21.48,"twl":3969.76,"ty1":21.43,"ty2":21.33},
{"kind":"feat","label":"S","wl":3967.21,"y":20.82,"twl":3967.26,"ty1":20.8,"ty2":20.67},
{"kind":"feat","label":"P","wl":3967.53,"y":19.26,"twl":3967.53,"ty1":19.22,"ty2":19.1},
{"kind":"feat","label":"Hε","wl":3969.1,"y":16.05,"twl":3969.1,"ty1":16.02,"ty2":15.91},
{"kind":"feat","label":"S","wl":3968.25,"y":15.2,"twl":3968.25,"ty1":15.17,"ty2":15.07},
{"kind":"feat","label":"P","wl":3968.43,"y":4.8,"twl":3968.43,"ty1":4.76,"ty2":4.63},
{"kind":"feat","label":"S","wl":3967.53,"y":3.22,"twl":3967.53,"ty1":3.21,"ty2":3.08},
{"kind":"feat","label":"Hε","wl":3970.0,"y":3.47,"twl":3970.0,"ty1":3.43,"ty2":3.31},
{"kind":"feat","label":"P","wl":3967.53,"y":2.3,"twl":3967.53,"ty1":2.23,"ty2":2.1},
{"kind":"feat","label":"S+Hε","wl":3970.22,"y":1.33,"twl":3969.1,"ty1":1.31,"ty2":1.18}
],
"breaks":[
{"wl1":3941.05,"wl2":3941.7,"y1":19.62,"y2":19.8},{"wl1":3941.75,"wl2":3942.4,"y1":19.62,"y2":19.8},
{"wl1":3941.05,"wl2":3941.7,"y1":13.85,"y2":14.03},{"wl1":3941.75,"wl2":3942.4,"y1":13.85,"y2":14.03},
{"wl1":3941.05,"wl2":3941.7,"y1":11.19,"y2":11.37},{"wl1":3941.75,"wl2":3942.4,"y1":11.19,"y2":11.37},
{"wl1":3941.05,"wl2":3941.7,"y1":8.55,"y2":8.73},{"wl1":3941.75,"wl2":3942.4,"y1":8.55,"y2":8.73},
{"wl1":3941.05,"wl2":3941.7,"y1":5.9,"y2":6.08},{"wl1":3941.75,"wl2":3942.4,"y1":5.9,"y2":6.08},
{"wl1":3941.05,"wl2":3941.7,"y1":2.5,"y2":2.68},{"wl1":3941.75,"wl2":3942.4,"y1":2.5,"y2":2.68},
{"wl1":3941.05,"wl2":3941.7,"y1":0.37,"y2":0.55},{"wl1":3941.75,"wl2":3942.4,"y1":0.37,"y2":0.55},
{"wl1":3941.06,"wl2":3941.55,"y1":-0.25,"y2":0.11},{"wl1":3941.88,"wl2":3942.54,"y1":-0.25,"y2":0.11}
]
},
"layer":[
{"data":{"name":"breaks"},"mark":{"type":"rule","color":"black","strokeWidth":1},
"encoding":{
"x":{"field":"wl1","type":"quantitative","scale":{"domain":[3923.8457,3957.6736],"nice":false,"zero":false},"axis":null},
"x2":{"field":"wl2"},
"y":{"field":"y1","type":"quantitative","scale":{"domain":[0,25],"nice":false,"zero":false},"axis":null},
"y2":{"field":"y2"}}},
{"data":{"name":"specL"},"mark":{"type":"line","color":"black","strokeWidth":1},
"encoding":{
"x":{"field":"wl","type":"quantitative","scale":{"domain":[3923.8457,3957.6736],"nice":false,"zero":false},"axis":{"orient":"bottom","values":[3924.934,3927.67,3930.407,3933.143,3935.88,3938.617,3941.353,3944.089,3946.826,3949.563,3952.299,3955.036],"labels":false,"domain":false,"grid":false,"tickSize":-4,"title":null}},
"y":{"field":"flux","type":"quantitative","scale":{"domain":[0,25],"nice":false,"zero":false},"axis":{"orient":"left","values":[1,2,3,4,5,6,7,8,9,10,11,12,13,14,15,16,17,18,19,20,21,22,23,24],"labels":false,"domain":false,"grid":false,"tickSize":-5.5,"title":"Normalized Flux","titleFont":"DejaVu Sans","titleFontWeight":"bold","titleFontSize":10,"titleColor":"black","titleAngle":270,"titleX":-21,"titleY":470,"titleAlign":"center","titleBaseline":"middle"}},
"detail":{"field":"id"}}},
{"data":{"name":"specR"},"mark":{"type":"line","color":"black","strokeWidth":1},
"encoding":{
"x":{"field":"wl","type":"quantitative","scale":{"domain":[3944.7554,3975.5108],"nice":false,"zero":false},"axis":{"orient":"bottom","values":[3964,3970],"format":"d","ticks":false,"tickSize":0,"labels":true,"labelFont":"DejaVu Sans","labelFontWeight":"bold","labelFontSize":11,"labelColor":"black","labelPadding":4,"labelFlush":false,"labelOverlap":false,"domain":false,"grid":false,"title":null}},
"y":{"field":"flux","type":"quantitative","scale":{"domain":[0,25],"nice":false,"zero":false},"axis":{"orient":"right","values":[1,2,3,4,5,6,7,8,9,10,11,12,13,14,15,16,17,18,19,20,21,22,23,24],"labels":false,"domain":false,"grid":false,"tickSize":-5.5,"title":null}},
"detail":{"field":"id"}}},
{"data":{"name":"notesL"},"transform":[{"filter":"isValid(datum.twl)"}],"mark":{"type":"rule","color":"black","strokeWidth":0.8},
"encoding":{
"x":{"field":"twl","type":"quantitative","scale":{"domain":[3923.8457,3957.6736],"nice":false,"zero":false},"axis":{"orient":"bottom","values":[3924.934,3935.88,3946.826],"labels":false,"domain":false,"grid":false,"tickSize":-7,"title":null}},
"y":{"field":"ty1","type":"quantitative","scale":{"domain":[0,25],"nice":false,"zero":false},"axis":null},
"y2":{"field":"ty2"}}},
{"data":{"name":"notesL"},"transform":[{"filter":"datum.kind=='feat'"}],"mark":{"type":"text","font":"Liberation Sans","fontSize":10.5,"align":"center","baseline":"alphabetic","color":"black"},
"encoding":{
"x":{"field":"wl","type":"quantitative","scale":{"domain":[3923.8457,3957.6736],"nice":false,"zero":false},"axis":{"orient":"top","values":[3924.934,3927.67,3930.407,3933.143,3935.88,3938.617,3941.353,3944.089,3946.826,3949.563,3952.299,3955.036],"labels":false,"domain":false,"grid":false,"tickSize":-4,"title":null}},
"y":{"field":"y","type":"quantitative","scale":{"domain":[0,25],"nice":false,"zero":false},"axis":null},
"text":{"field":"label"}}},
{"data":{"name":"notesL"},"transform":[{"filter":"datum.kind=='rest'"}],"mark":{"type":"text","font":"DejaVu Sans","fontWeight":"bold","fontSize":11.5,"align":"center","baseline":"alphabetic","color":"black"},
"encoding":{
"x":{"field":"wl","type":"quantitative","scale":{"domain":[3923.8457,3957.6736],"nice":false,"zero":false},"axis":{"orient":"top","values":[3924.934,3935.88,3946.826],"labels":false,"domain":false,"grid":false,"tickSize":-7,"title":null}},
"y":{"field":"y","type":"quantitative","scale":{"domain":[0,25],"nice":false,"zero":false},"axis":null},
"text":{"field":"label"}}},
{"data":{"name":"notesL"},"transform":[{"filter":"datum.kind=='run'"}],"mark":{"type":"text","font":"DejaVu Sans","fontWeight":"bold","fontSize":12,"align":"left","baseline":"alphabetic","color":"black"},
"encoding":{
"x":{"field":"wl","type":"quantitative","scale":{"domain":[3923.8457,3957.6736],"nice":false,"zero":false},"axis":{"orient":"bottom","values":[3928,3937],"format":"d","ticks":false,"tickSize":0,"labels":true,"labelFont":"DejaVu Sans","labelFontWeight":"bold","labelFontSize":11,"labelColor":"black","labelPadding":4,"labelFlush":false,"labelOverlap":false,"domain":false,"grid":false,"title":"Wavelength (Å)","titleFont":"DejaVu Sans Mono","titleFontWeight":"bold","titleFontSize":12.5,"titleColor":"black","titleX":176.5,"titleY":32,"titleAlign":"center","titleBaseline":"middle"}},
"y":{"field":"y","type":"quantitative","scale":{"domain":[0,25],"nice":false,"zero":false},"axis":null},
"text":{"field":"label"}}},
{"data":{"name":"notesL"},"transform":[{"filter":"datum.kind=='site'"}],"mark":{"type":"text","font":"Liberation Serif","fontWeight":"bold","fontSize":13,"align":"left","baseline":"alphabetic","color":"black"},
"encoding":{
"x":{"field":"wl","type":"quantitative","scale":{"domain":[3923.8457,3957.6736],"nice":false,"zero":false},"axis":null},
"y":{"field":"y","type":"quantitative","scale":{"domain":[0,25],"nice":false,"zero":false},"axis":null},
"text":{"field":"label"}}},
{"data":{"name":"notesL"},"transform":[{"filter":"datum.kind=='phase'"}],"mark":{"type":"text","font":"DejaVu Sans","fontWeight":"bold","fontSize":11.5,"align":"center","baseline":"alphabetic","color":"black"},
"encoding":{
"x":{"field":"wl","type":"quantitative","scale":{"domain":[3923.8457,3957.6736],"nice":false,"zero":false},"axis":null},
"y":{"field":"y","type":"quantitative","scale":{"domain":[0,25],"nice":false,"zero":false},"axis":null},
"text":{"field":"label"}}},
{"data":{"name":"notesL"},"transform":[{"filter":"datum.kind=='obs' || datum.kind=='head'"}],"mark":{"type":"text","font":"Liberation Mono","align":"center","baseline":"alphabetic","color":"black"},
"encoding":{
"x":{"field":"wl","type":"quantitative","scale":{"domain":[3923.8457,3957.6736],"nice":false,"zero":false},"axis":null},
"y":{"field":"y","type":"quantitative","scale":{"domain":[0,25],"nice":false,"zero":false},"axis":null},
"size":{"field":"kind","type":"nominal","scale":{"domain":["obs","head"],"range":[22,20]},"legend":null},
"text":{"field":"label"}}},
{"data":{"name":"notesR"},"transform":[{"filter":"isValid(datum.twl)"}],"mark":{"type":"rule","color":"black","strokeWidth":0.8},
"encoding":{
"x":{"field":"twl","type":"quantitative","scale":{"domain":[3944.7554,3975.5108],"nice":false,"zero":false},"axis":null},
"y":{"field":"ty1","type":"quantitative","scale":{"domain":[0,25],"nice":false,"zero":false},"axis":null},
"y2":{"field":"ty2"}}},
{"data":{"name":"notesR"},"transform":[{"filter":"datum.kind=='feat'"}],"mark":{"type":"text","font":"Liberation Sans","fontSize":10.5,"align":"center","baseline":"alphabetic","color":"black"},
"encoding":{
"x":{"field":"wl","type":"quantitative","scale":{"domain":[3944.7554,3975.5108],"nice":false,"zero":false},"axis":null},
"y":{"field":"y","type":"quantitative","scale":{"domain":[0,25],"nice":false,"zero":false},"axis":null},
"text":{"field":"label"}}},
{"data":{"name":"notesR"},"transform":[{"filter":"datum.kind=='rest'"}],"mark":{"type":"text","font":"DejaVu Sans","fontWeight":"bold","fontSize":11.5,"align":"center","baseline":"alphabetic","color":"black"},
"encoding":{
"x":{"field":"wl","type":"quantitative","scale":{"domain":[3944.7554,3975.5108],"nice":false,"zero":false},"axis":null},
"y":{"field":"y","type":"quantitative","scale":{"domain":[0,25],"nice":false,"zero":false},"axis":null},
"text":{"field":"label"}}}
],
"resolve":{"scale":{"x":"independent"},"axis":{"x":"independent","y":"independent"}}
}
